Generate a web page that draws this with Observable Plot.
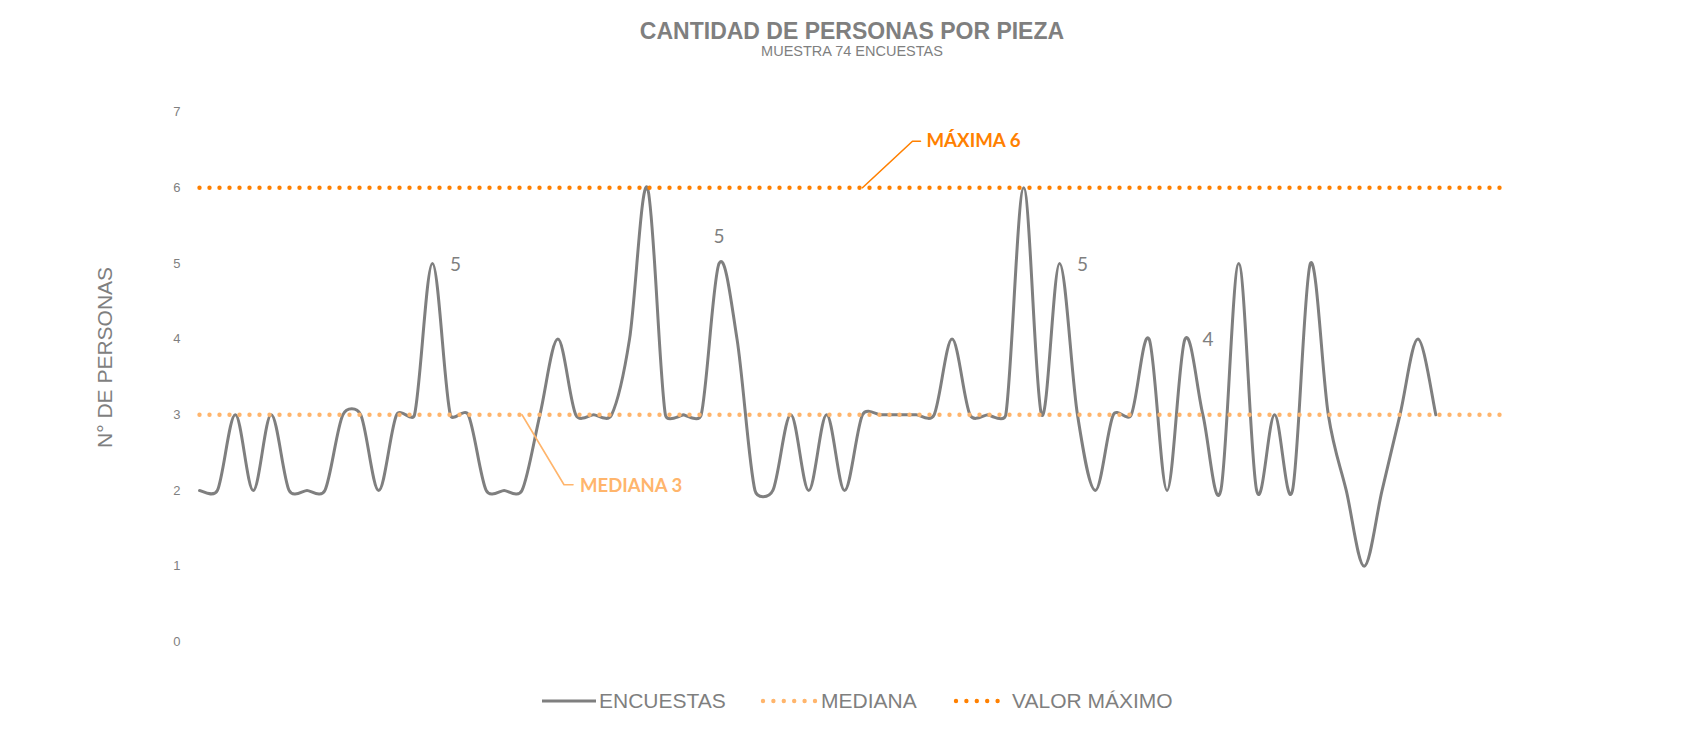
<!DOCTYPE html>
<html>
<head>
<meta charset="utf-8">
<script src="https://cdn.jsdelivr.net/npm/d3@7"></script>
<script src="https://cdn.jsdelivr.net/npm/@observablehq/plot@0.6"></script>
<style>
  html, body { margin: 0; padding: 0; background: #fff; }
  #wrap { width: 1703px; height: 732px; position: relative; overflow: hidden; font-family: "Liberation Sans", Arial, sans-serif; color: #7f7f7f; }
  #header { position: relative; height: 62px; }
  #title { position: absolute; left: 0; width: 1704px; top: 20px; text-align: center; font-size: 23px; line-height: 23px; font-weight: bold; color: #7f7f7f; }
  #subtitle { position: absolute; left: 0; width: 1704px; top: 43.5px; text-align: center; font-size: 14.5px; line-height: 15px; color: #7f7f7f; }
  #chart { height: 614px; }
  #chart svg { display: block; }
  #legend { position: relative; height: 56px; }
  .item { position: absolute; top: -3px; height: 56px; display: flex; align-items: center; font-size: 21px; color: #7f7f7f; }
  .item svg { display: block; }
</style>
</head>
<body>
<div id="wrap">
  <div id="header">
    <div id="title">CANTIDAD DE PERSONAS POR PIEZA</div>
    <div id="subtitle">MUESTRA 74 ENCUESTAS</div>
  </div>
  <div id="chart"></div>
  <div id="legend"></div>
</div>
<script>
// ---------- data ----------
const categories = [1,2,3,4,5,6,7,8,9,10,11,12,13,14,15,16,17,18,19,20,21,22,23,24,25,26,27,28,29,30,31,32,33,34,35,36,37,38,39,40,41,42,43,44,45,46,47,48,49,50,51,52,53,54,55,56,57,58,59,60,61,62,63,64,65,66,67,68,69,70,71,72,73,74];
const encuestas = [2,2,3,2,3,2,2,2,3,3,2,3,3,5,3,3,2,2,2,3,4,3,3,3,4,6,3,3,3,5,4,2,2,3,2,3,2,3,3,3,3,3,4,3,3,3,6,3,5,3,2,3,3,4,2,4,3,2,5,2,3,2,5,3,2,1,2,3,4,3];
const mediana = [3,3,3,3,3,3,3,3,3,3,3,3,3,3,3,3,3,3,3,3,3,3,3,3,3,3,3,3,3,3,3,3,3,3,3,3,3,3,3,3,3,3,3,3,3,3,3,3,3,3,3,3,3,3,3,3,3,3,3,3,3,3,3,3,3,3,3,3,3,3,3,3,3,3];
const valorMaximo = [6,6,6,6,6,6,6,6,6,6,6,6,6,6,6,6,6,6,6,6,6,6,6,6,6,6,6,6,6,6,6,6,6,6,6,6,6,6,6,6,6,6,6,6,6,6,6,6,6,6,6,6,6,6,6,6,6,6,6,6,6,6,6,6,6,6,6,6,6,6,6,6,6,6];
const yTicks = [0,1,2,3,4,5,6,7];
const seriesNames = ["ENCUESTAS", "MEDIANA", "VALOR MÁXIMO"];
const yTitle = "N° DE PERSONAS";
// data labels shown on the ENCUESTAS line (category number, placement)
const labelCategories = [14, 30, 49, 56];
const labelPlacement = ["right", "top", "right", "right"];
// callouts: category where the leader starts, series, text
const calloutCategories = [19, 38];
const calloutSeries = ["MEDIANA", "VALOR MÁXIMO"];
const calloutTexts = ["MEDIANA 3", "MÁXIMA 6"];

// ---------- styles ----------
const GRAY = "#7f7f7f";
const MED = "#ffb56c";
const MAX = "#ff8000";

// ---------- Excel-like smoothed curve ----------
function excelCurve(context) {
  let pts = [];
  return {
    areaStart() {}, areaEnd() {},
    lineStart() { pts = []; },
    point(x, y) { pts.push([+x, +y]); },
    lineEnd() {
      const n = pts.length;
      if (!n) return;
      context.moveTo(pts[0][0], pts[0][1]);
      const dist = (a, b) => Math.hypot(b[0] - a[0], b[1] - a[1]);
      for (let i = 0; i < n - 1; i++) {
        const p0 = pts[Math.max(i - 1, 0)], p1 = pts[i], p2 = pts[i + 1], p3 = pts[Math.min(i + 2, n - 1)];
        const d02 = dist(p0, p2), d12 = dist(p1, p2), d13 = dist(p1, p3);
        let f1 = 1 / 6, f2 = 1 / 6;
        const e1 = d02 / 6 >= d12 / 2, e2 = d13 / 6 >= d12 / 2;
        if (e1 && e2) { f1 = d12 / 2 / d02; f2 = d12 / 2 / d13; }
        else if (e1) { f1 = f2 = d12 / 2 / d02; }
        else if (e2) { f1 = f2 = d12 / 2 / d13; }
        context.bezierCurveTo(
          p1[0] + f1 * (p2[0] - p0[0]), p1[1] + f1 * (p2[1] - p0[1]),
          p2[0] - f2 * (p3[0] - p1[0]), p2[1] - f2 * (p3[1] - p1[1]),
          p2[0], p2[1]);
      }
    }
  };
}

// ---------- layout ----------
const W = 1703, H = 614;
const mL = 199, mR = 196, mT = 49.6, mB = 34.7;
const kx = (W - mL - mR) / (categories[categories.length - 1] - categories[0]);
const ky = (H - mT - mB) / (yTicks[yTicks.length - 1] - yTicks[0]);

const encData = encuestas.map((v, i) => ({n: categories[i], v}));
const medData = mediana.map((v, i) => ({n: categories[i], v}));
const maxData = valorMaximo.map((v, i) => ({n: categories[i], v}));

const labelData = labelCategories.map((n, i) => ({n, v: encuestas[categories.indexOf(n)], text: String(encuestas[categories.indexOf(n)]), pos: labelPlacement[i]}));
const labRight = labelData.filter(d => d.pos === "right");
const labTop = labelData.filter(d => d.pos === "top");

const seriesValues = {"MEDIANA": mediana, "VALOR MÁXIMO": valorMaximo};
const callouts = calloutCategories.map((n, i) => ({n, v: seriesValues[calloutSeries[i]][categories.indexOf(n)], text: calloutTexts[i]}));
const medC = callouts[0], maxC = callouts[1];
// leader geometry in pixels converted to data units
const leader = (c, px1, py1, px2) => [
  {n: c.n, v: c.v},
  {n: c.n + px1 / kx, v: c.v - py1 / ky},
  {n: c.n + px2 / kx, v: c.v - py1 / ky}
];
const medLeader = leader(medC, 42, 70, 51);
const maxLeader = leader(maxC, 50, -46.5, 58);

const chart = Plot.plot({
  width: W, height: H,
  marginLeft: mL, marginRight: mR, marginTop: mT, marginBottom: mB,
  style: {fontFamily: "'Liberation Sans', Arial, sans-serif", fontSize: "13px", color: GRAY, background: "#fff", overflow: "visible"},
  x: {domain: [categories[0], categories[categories.length - 1]], axis: null},
  y: {domain: [yTicks[0], yTicks[yTicks.length - 1]], ticks: yTicks, tickSize: 0, tickPadding: 19, label: null, tickFormat: d => String(d)},
  marks: [
    Plot.line(encData, {x: "n", y: "v", stroke: GRAY, strokeWidth: 3, curve: excelCurve}),
    Plot.line(medData, {x: "n", y: "v", stroke: MED, strokeWidth: 4.4, strokeDasharray: "0 10", strokeLinecap: "round"}),
    Plot.line(maxData, {x: "n", y: "v", stroke: MAX, strokeWidth: 4.4, strokeDasharray: "0 10", strokeLinecap: "round"}),
    Plot.line(medLeader, {x: "n", y: "v", stroke: MED, strokeWidth: 1.6}),
    Plot.line(maxLeader, {x: "n", y: "v", stroke: MAX, strokeWidth: 1.6}),
    Plot.text([medC], {x: "n", y: "v", text: "text", dx: 58, dy: 71, textAnchor: "start", lineAnchor: "middle", fill: MED, fontFamily: "Lato, 'Open Sans', sans-serif", fontWeight: "bold", fontSize: 18.5}),
    Plot.text([maxC], {x: "n", y: "v", text: "text", dx: 64, dy: -46.5, textAnchor: "start", lineAnchor: "middle", fill: MAX, fontFamily: "Lato, 'Open Sans', sans-serif", fontWeight: "bold", fontSize: 18.7}),
    Plot.text(labRight, {x: "n", y: "v", text: "text", dx: 23, dy: 1, textAnchor: "middle", lineAnchor: "middle", fill: GRAY, fontFamily: "Lato, 'Open Sans', sans-serif", fontSize: 19}),
    Plot.text(labTop, {x: "n", y: "v", text: "text", dx: 0, dy: -26.5, textAnchor: "middle", lineAnchor: "middle", fill: GRAY, fontFamily: "Lato, 'Open Sans', sans-serif", fontSize: 19}),
    Plot.text([yTitle], {frameAnchor: "left", dx: -94, dy: -19.5, rotate: -90, textAnchor: "middle", lineAnchor: "middle", fill: GRAY, fontSize: 21})
  ]
});
document.getElementById("chart").appendChild(chart);

// ---------- legend ----------
const legend = document.getElementById("legend");
const legendItems = [
  {name: seriesNames[0], left: 539, sw: 60, kind: "solid", color: GRAY},
  {name: seriesNames[1], left: 759, sw: 62, kind: "dots", color: MED},
  {name: seriesNames[2], left: 952, sw: 60, kind: "dots", color: MAX}
];
for (const it of legendItems) {
  const div = document.createElement("div");
  div.className = "item";
  div.style.left = it.left + "px";
  const svgNS = "http://www.w3.org/2000/svg";
  const s = document.createElementNS(svgNS, "svg");
  s.setAttribute("width", it.sw);
  s.setAttribute("height", 10);
  const ln = document.createElementNS(svgNS, "line");
  if (it.kind === "solid") {
    ln.setAttribute("x1", 3); ln.setAttribute("x2", it.sw - 3);
    ln.setAttribute("stroke-width", 3);
  } else {
    ln.setAttribute("x1", 4); ln.setAttribute("x2", it.sw - 5);
    ln.setAttribute("stroke-width", 4.4);
    ln.setAttribute("stroke-linecap", "round");
    ln.setAttribute("stroke-dasharray", "0 10.4");
  }
  ln.setAttribute("y1", 5); ln.setAttribute("y2", 5);
  ln.setAttribute("stroke", it.color);
  s.appendChild(ln);
  div.appendChild(s);
  const t = document.createElement("span");
  t.textContent = it.name;
  div.appendChild(t);
  legend.appendChild(div);
}
</script>
</body>
</html>
